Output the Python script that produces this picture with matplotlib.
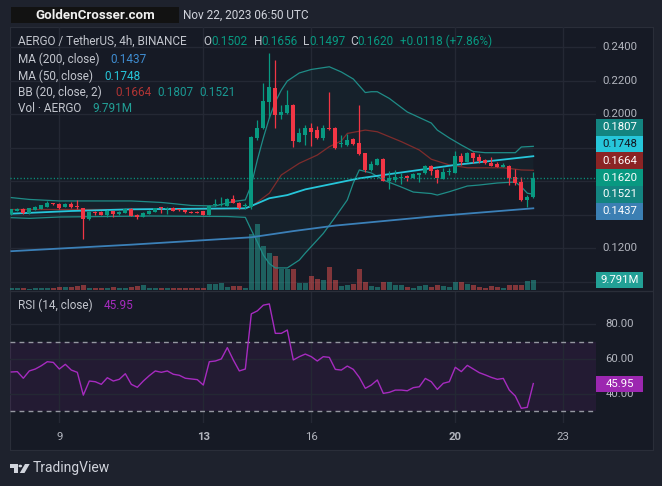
import matplotlib
matplotlib.use("Agg")
import matplotlib.pyplot as plt
from matplotlib.patches import Rectangle, Polygon, Circle
from matplotlib.lines import Line2D
import numpy as np

plt.rcParams['font.family'] = ['Roboto', 'DejaVu Sans']

W, H = 662, 486

BG_OUT = '#1e222d'
BG = '#161a25'
GRID = '#242834'
BORDER = '#2a2e39'
TXT = '#b2b5be'
LEG = '#c3c6ce'
GREEN = '#089981'
RED = '#f23645'

# AERGO / USDT 4h candles, Nov 7 16:00 -> Nov 22 04:00 UTC
opens = [0.1403, 0.1423, 0.1433, 0.1409, 0.1427, 0.1435, 0.1447, 0.1465, 0.1464, 0.1447,
         0.1464, 0.1445, 0.1437, 0.1373, 0.1413, 0.1417, 0.1399, 0.1421, 0.1403, 0.1411,
         0.1433, 0.1399, 0.1387, 0.1403, 0.1417, 0.1438, 0.1430, 0.1441, 0.1428, 0.1427,
         0.1417, 0.1417, 0.1419, 0.1399, 0.1455, 0.1459, 0.1453, 0.1494, 0.1470, 0.1453,
         0.1447, 0.1855, 0.1915, 0.2073, 0.2157, 0.1994, 0.2008, 0.2054, 0.1835, 0.1875,
         0.1915, 0.1904, 0.1855, 0.1917, 0.1915, 0.1819, 0.1815, 0.1851, 0.1825, 0.1765,
         0.1666, 0.1696, 0.1731, 0.1602, 0.1606, 0.1620, 0.1630, 0.1620, 0.1636, 0.1646,
         0.1690, 0.1666, 0.1614, 0.1656, 0.1650, 0.1749, 0.1715, 0.1769, 0.1741, 0.1725,
         0.1709, 0.1700, 0.1685, 0.1690, 0.1626, 0.1596, 0.1488, 0.1502]
highs = [0.1435, 0.1440, 0.1437, 0.1440, 0.1449, 0.1459, 0.1480, 0.1470, 0.1470, 0.1466,
         0.1476, 0.1487, 0.1440, 0.1419, 0.1423, 0.1420, 0.1425, 0.1423, 0.1419, 0.1440,
         0.1436, 0.1401, 0.1413, 0.1426, 0.1440, 0.1447, 0.1443, 0.1444, 0.1431, 0.1429,
         0.1419, 0.1420, 0.1421, 0.1455, 0.1493, 0.1503, 0.1497, 0.1518, 0.1473, 0.1467,
         0.1870, 0.1964, 0.2187, 0.2362, 0.2322, 0.2054, 0.2143, 0.2058, 0.1915, 0.1934,
         0.1944, 0.1930, 0.1934, 0.2133, 0.1920, 0.1875, 0.1881, 0.1855, 0.2054, 0.1770,
         0.1719, 0.1735, 0.1735, 0.1660, 0.1666, 0.1646, 0.1636, 0.1646, 0.1648, 0.1694,
         0.1694, 0.1670, 0.1676, 0.1676, 0.1781, 0.1765, 0.1775, 0.1775, 0.1761, 0.1731,
         0.1741, 0.1713, 0.1709, 0.1696, 0.1670, 0.1622, 0.1516, 0.1656]
lows = [0.1400, 0.1420, 0.1403, 0.1405, 0.1425, 0.1433, 0.1445, 0.1458, 0.1435, 0.1445,
        0.1437, 0.1433, 0.1256, 0.1367, 0.1397, 0.1397, 0.1387, 0.1385, 0.1400, 0.1409,
        0.1391, 0.1373, 0.1385, 0.1401, 0.1415, 0.1407, 0.1401, 0.1420, 0.1422, 0.1411,
        0.1407, 0.1408, 0.1397, 0.1397, 0.1453, 0.1452, 0.1450, 0.1467, 0.1433, 0.1433,
        0.1431, 0.1845, 0.1909, 0.1974, 0.1915, 0.1970, 0.2000, 0.1805, 0.1831, 0.1815,
        0.1809, 0.1853, 0.1845, 0.1904, 0.1790, 0.1805, 0.1809, 0.1815, 0.1755, 0.1656,
        0.1662, 0.1693, 0.1598, 0.1552, 0.1596, 0.1582, 0.1602, 0.1616, 0.1596, 0.1642,
        0.1636, 0.1586, 0.1610, 0.1636, 0.1646, 0.1696, 0.1711, 0.1709, 0.1706, 0.1700,
        0.1688, 0.1683, 0.1681, 0.1576, 0.1576, 0.1482, 0.1447, 0.1497]
closes = [0.1431, 0.1433, 0.1407, 0.1437, 0.1445, 0.1457, 0.1467, 0.1462, 0.1441, 0.1463,
          0.1443, 0.1443, 0.1373, 0.1417, 0.1409, 0.1399, 0.1423, 0.1405, 0.1417, 0.1435,
          0.1393, 0.1383, 0.1411, 0.1423, 0.1437, 0.1436, 0.1432, 0.1423, 0.1426, 0.1413,
          0.1411, 0.1411, 0.1399, 0.1451, 0.1459, 0.1462, 0.1494, 0.1470, 0.1441, 0.1456,
          0.1864, 0.1915, 0.2079, 0.2163, 0.1994, 0.2014, 0.2054, 0.1841, 0.1885, 0.1915,
          0.1894, 0.1859, 0.1915, 0.1913, 0.1800, 0.1825, 0.1845, 0.1821, 0.1761, 0.1666,
          0.1701, 0.1731, 0.1602, 0.1616, 0.1624, 0.1626, 0.1616, 0.1642, 0.1646, 0.1690,
          0.1661, 0.1616, 0.1656, 0.1660, 0.1749, 0.1715, 0.1769, 0.1739, 0.1719, 0.1706,
          0.1691, 0.1685, 0.1697, 0.1620, 0.1590, 0.1487, 0.1502, 0.1620]
# volume in millions
volumes = [1.96, 1.96, 1.96, 0.98, 1.96, 1.96, 1.96, 1.96, 3.23, 3.23,
           2.94, 4.21, 5.19, 1.96, 1.96, 1.96, 1.96, 2.94, 1.96, 1.96,
           3.23, 3.92, 5.19, 1.96, 1.96, 1.96, 1.96, 1.96, 1.96, 1.96,
           1.96, 1.96, 2.25, 5.87, 5.87, 6.56, 2.94, 3.92, 3.92, 1.96,
           55.1, 64.6, 43.1, 35.9, 33.3, 20.6, 20.6, 20.6, 6.56, 6.56,
           13.4, 10.8, 9.79, 22.2, 9.79, 3.92, 4.90, 5.87, 20.6, 7.83,
           3.92, 2.94, 7.83, 7.83, 4.90, 4.90, 2.94, 1.96, 3.92, 4.90,
           3.23, 4.90, 4.21, 2.94, 7.83, 7.83, 5.87, 4.90, 2.94, 1.96,
           4.21, 2.94, 1.96, 5.19, 5.19, 5.19, 8.81, 9.791]
rsi = [52.6, 52.8, 49.0, 53.2, 54.3, 56.2, 58.5, 58.1, 54.3, 57.0,
       53.7, 52.4, 39.3, 47.4, 47.0, 45.5, 49.3, 47.4, 48.4, 51.6,
       45.5, 43.8, 47.4, 50.5, 53.2, 52.4, 53.2, 51.3, 50.7, 49.0,
       48.6, 48.2, 45.1, 58.5, 58.9, 60.1, 66.6, 59.5, 53.2, 54.3,
       86.0, 87.7, 91.0, 91.7, 74.8, 74.8, 76.7, 59.5, 61.4, 62.9,
       61.4, 58.9, 61.4, 61.0, 54.1, 53.7, 56.0, 54.1, 49.5, 43.2,
       45.1, 48.0, 40.3, 40.9, 42.2, 42.2, 41.8, 43.6, 44.1, 48.9,
       47.0, 42.6, 46.1, 47.0, 55.3, 52.8, 56.4, 54.3, 52.2, 50.9,
       49.5, 48.4, 48.9, 42.2, 38.8, 31.7, 32.3, 45.95]

# indicator lines (candle index, value)
ma200_idx = [0, 20, 40, 47, 54, 71, 87]
ma200 = [0.1181, 0.1220, 0.1264, 0.1301, 0.1334, 0.1391, 0.1437]
ma50_idx = [0, 10, 20, 39, 40, 43, 46, 49, 55, 58, 74, 87]
ma50 = [0.1405, 0.1421, 0.1431, 0.1437, 0.1451, 0.1497, 0.1516, 0.1550, 0.1594, 0.1616,
        0.1696, 0.1748]
bb_up_idx = [0, 3, 8, 20, 25, 30, 34, 37, 39, 40, 41, 42, 43, 44, 45, 46, 48, 50, 53, 55,
             57, 59, 60, 61, 63, 66, 68, 70, 71, 73, 75, 77, 79, 84, 85, 87]
bb_up = [0.1501, 0.1490, 0.1481, 0.1481, 0.1472, 0.1454, 0.1451, 0.1478, 0.1487, 0.1576,
         0.1725, 0.1857, 0.1976, 0.2072, 0.2143, 0.2197, 0.2245, 0.2266, 0.2282, 0.2251,
         0.2209, 0.2128, 0.2133, 0.2133, 0.2093, 0.2012, 0.1979, 0.1946, 0.1904, 0.1857,
         0.1815, 0.1776, 0.1769, 0.1769, 0.1803, 0.1807]
bb_lo_idx = [0, 3, 8, 23, 36, 39, 40, 41, 42, 43, 44, 46, 48, 49, 52, 54, 56, 57, 58, 60,
             62, 65, 67, 70, 71, 73, 76, 78, 81, 84, 85, 86, 87]
bb_lo = [0.1381, 0.1377, 0.1385, 0.1391, 0.1388, 0.1383, 0.1307, 0.1236, 0.1158, 0.1107,
         0.1081, 0.1081, 0.1128, 0.1170, 0.1287, 0.1385, 0.1487, 0.1588, 0.1666, 0.1648,
         0.1606, 0.1564, 0.1534, 0.1525, 0.1516, 0.1536, 0.1570, 0.1576, 0.1588, 0.1594,
         0.1566, 0.1527, 0.1521]
bb_mid_idx = [0, 20, 39, 40, 43, 45, 48, 51, 53, 55, 56, 59, 61, 65, 68, 70, 73, 76, 82, 85, 87]
bb_mid = [0.1430, 0.1430, 0.1436, 0.1447, 0.1527, 0.1636, 0.1706, 0.1755, 0.1805, 0.1839,
          0.1884, 0.1904, 0.1894, 0.1835, 0.1785, 0.1730, 0.1696, 0.1679, 0.1679, 0.1666,
          0.1664]

day_ticks = [8, 32, 50, 74, 92]
day_labels = ['9', '13', '16', '20', '23']
bold_days = ['13', '20']
price_ticks = [0.10, 0.12, 0.14, 0.16, 0.18, 0.20, 0.22, 0.24]
rsi_ticks = [40, 60, 80]


def frect(x0, y0, x1, y1):
    return [x0 / W, 1 - y1 / H, (x1 - x0) / W, (y1 - y0) / H]


def ftext(x, y, s, **kw):
    kw.setdefault('va', 'center')
    kw.setdefault('fontsize', 8.5)
    kw.setdefault('color', LEG)
    return fig.text(x / W, 1 - y / H, s, **kw)


def fbox(x0, yc, x1, h, face, zorder=5):
    fig.add_artist(Rectangle((x0 / W, yc / H - h / 2 / H), (x1 - x0) / W, h / H,
                             transform=fig.transFigure, facecolor=face, edgecolor='none',
                             zorder=zorder))


fig = plt.figure(figsize=(W / 100, H / 100), dpi=100)
fig.patch.set_facecolor(BG_OUT)

frame = fig.add_axes(frect(9.5, 27, 652.5, 450))
frame.set_facecolor(BG)
frame.set_xticks([])
frame.set_yticks([])
for sp in frame.spines.values():
    sp.set_color(BORDER)

XL = (-0.22, 97.45)
main_rect = frect(10, 27, 596, 290)
ax_grid = fig.add_axes(main_rect)
ax_vol = fig.add_axes(main_rect)
ax = fig.add_axes(main_rect)
for a in (ax_grid, ax_vol, ax):
    a.set_facecolor('none')
    a.axis('off')
    a.set_xlim(*XL)
ax_grid.set_ylim(0.09493, 0.25194)
ax.set_ylim(0.09493, 0.25194)
ax_vol.set_ylim(0, 257.5)

for p in price_ticks:
    ax_grid.axhline(p, color=GRID, lw=1)
for d in day_ticks:
    ax_grid.axvline(d, color=GRID, lw=1)

idx = np.arange(len(opens))
o = np.array(opens)
c = np.array(closes)
up = c >= o
cols = np.where(up, GREEN, RED)
vcols = np.where(up, '#26a69a', '#ef5350')

ax_vol.bar(idx, volumes, width=0.82, color=vcols, alpha=0.5, linewidth=0)

# bollinger band fill
ax.fill(np.r_[bb_up_idx, bb_lo_idx[::-1]], np.r_[bb_up, bb_lo[::-1]],
        color='#1e9d97', alpha=0.06, lw=0, zorder=1)
ax.plot(bb_up_idx, bb_up, color='#1f8c87', lw=0.9, zorder=2)
ax.plot(bb_lo_idx, bb_lo, color='#1f8c87', lw=0.9, zorder=2)
ax.plot(bb_mid_idx, bb_mid, color='#7e2c2c', lw=0.9, zorder=2)
ax.plot(ma200_idx, ma200, color='#3b80b8', lw=1.3, zorder=2)
ax.plot(ma50_idx, ma50, color='#26c6da', lw=1.3, zorder=2)

ax.vlines(idx, lows, highs, colors=cols, lw=0.9, zorder=3)
ax.bar(idx, np.maximum(np.abs(c - o), 0.0006), bottom=np.minimum(o, c), width=0.68,
       color=cols, linewidth=0, zorder=4)
ax.axhline(closes[-1], color=GREEN, lw=1, linestyle=(0, (0.8, 1.6)), zorder=5)

# pane separator
fig.add_artist(Line2D([10 / W, 652 / W], [1 - 290.5 / H] * 2, color=BORDER, lw=1))

# RSI pane
ax_rsi = fig.add_axes(frect(10, 291, 596, 423))
ax_rsi.set_facecolor('none')
ax_rsi.axis('off')
ax_rsi.set_xlim(*XL)
ax_rsi.set_ylim(23.28, 99.14)
for r in rsi_ticks:
    ax_rsi.axhline(r, color=GRID, lw=1)
for d in day_ticks:
    ax_rsi.axvline(d, color=GRID, lw=1)
ax_rsi.axhspan(30, 70, color='#9c27b0', alpha=0.1, lw=0)
for r in (30, 70):
    ax_rsi.axhline(r, color='#9598a1', lw=1, linestyle=(0, (3.5, 3)))
ax_rsi.plot(idx, rsi, color='#a62bbf', lw=1)


def disp_y(a, v):
    return a.transData.transform((0, v))[1]


# stacked last-value labels
labels = [
    (bb_up[-1], '#138480', 'white'),
    (ma50[-1], '#26c6da', '#131722'),
    (bb_mid[-1], '#8b2424', 'white'),
    (closes[-1], GREEN, 'white'),
    (bb_lo[-1], '#138480', 'white'),
    (ma200[-1], '#3b7fb3', 'white'),
]
labels.sort(key=lambda t: -t[0])
bh = 16.8
anchor = [i for i, t in enumerate(labels) if t[0] == closes[-1]][0]
ys = [disp_y(ax, t[0]) for t in labels]
for i in range(anchor - 1, -1, -1):
    ys[i] = max(ys[i], ys[i + 1] + bh)
for i in range(anchor + 1, len(labels)):
    ys[i] = min(ys[i], ys[i - 1] - bh)
for (v, face, tc), yv in zip(labels, ys):
    fbox(596, yv, 643, bh, face)
    fig.text(619.5 / W, yv / H, f"{v:.4f}", ha='center', va='center', fontsize=8.2,
             color=tc, zorder=6)

yv_vol = ax_vol.transData.transform((0, volumes[-1]))[1]
fbox(596, yv_vol, 643, bh, '#22a096')
fig.text(619.5 / W, yv_vol / H, f"{volumes[-1]:.3f}M", ha='center', va='center',
         fontsize=8.2, color='white', zorder=6)

yr = disp_y(ax_rsi, rsi[-1])
fbox(596, yr, 643, 16, '#9c27b0')
fig.text(619.5 / W, yr / H, f"{rsi[-1]:.2f}", ha='center', va='center', fontsize=8.2,
         color='white', zorder=6)

# price scale labels, skipping those hidden under the value boxes
covered = ys + [yv_vol]
for p in price_ticks:
    yp = disp_y(ax, p)
    if any(abs(yp - yc) < bh * 0.75 for yc in covered):
        continue
    fig.text(619.5 / W, yp / H, f"{p:.4f}", ha='center', va='center',
             fontsize=8.2, color=TXT, zorder=3)
for r in rsi_ticks:
    yp = disp_y(ax_rsi, r)
    fig.text(619.5 / W, yp / H, f"{r:.2f}", ha='center', va='center',
             fontsize=8.2, color=TXT, zorder=3)

# time axis
for d, lab in zip(day_ticks, day_labels):
    xd = ax_rsi.transData.transform((d, 0))[0]
    fig.text(xd / W, 1 - 437 / H, lab, ha='center', va='center', fontsize=8.2, color=TXT,
             fontweight='bold' if lab in bold_days else 'normal')

# legend
ch = closes[-1] - closes[-2]
ftext(18, 41.7, "AERGO / TetherUS, 4h, BINANCE")
ftext(203, 41.7, "O")
ftext(211.5, 41.7, f"{opens[-1]:.4f}", color=GREEN)
ftext(254, 41.7, "H")
ftext(261.5, 41.7, f"{highs[-1]:.4f}", color=GREEN)
ftext(303.5, 41.7, "L")
ftext(309.5, 41.7, f"{lows[-1]:.4f}", color=GREEN)
ftext(350.5, 41.7, "C")
ftext(357.5, 41.7, f"{closes[-1]:.4f}", color=GREEN)
ftext(400, 41.7, f"{ch:+.4f} ({ch / closes[-2] * 100:+.2f}%)", color=GREEN)
ftext(18, 59.3, "MA (200, close)")
ftext(110, 59.3, f"{ma200[-1]:.4f}", color='#3f8cd0')
ftext(18, 76, "MA (50, close)")
ftext(104, 76, f"{ma50[-1]:.4f}", color='#26c6da')
ftext(18, 92.7, "BB (20, close, 2)")
ftext(115, 92.7, f"{bb_mid[-1]:.4f}", color='#b03434')
ftext(157, 92.7, f"{bb_up[-1]:.4f}", color='#1a9a94')
ftext(199, 92.7, f"{bb_lo[-1]:.4f}", color='#1a9a94')
ftext(18, 108.3, "Vol · AERGO")
ftext(92, 108.3, f"{volumes[-1]:.3f}M", color='#22a096')
ftext(18, 305.7, "RSI (14, close)")
ftext(103.5, 305.7, f"{rsi[-1]:.2f}", color='#a62bbf')

# header
fig.add_artist(Rectangle((10.5 / W, 1 - 23.5 / H), 168.5 / W, 16.5 / H,
                         transform=fig.transFigure, facecolor='#121212', edgecolor='none'))
ftext(95, 15.3, "GoldenCrosser.com", ha='center', fontsize=9.6, fontweight='bold',
      color='#f0f0f0')
ftext(183, 15.3, "Nov 22, 2023 06:50 UTC", fontsize=8.5, color='#d1d4dc')

# TradingView mark
logo = '#d1d4dc'


def lp(pts):
    return [(x / W, 1 - y / H) for x, y in pts]


fig.add_artist(Polygon(lp([(9.5, 464), (17.5, 464), (17.5, 473), (13.5, 473), (13.5, 467.5),
                           (9.5, 467.5)]), closed=True, transform=fig.transFigure,
                       facecolor=logo, edgecolor='none'))
fig.add_artist(Circle((20.3 / W, 1 - 466 / H), 1.8 / W, transform=fig.transFigure,
                      facecolor=logo, edgecolor='none'))
fig.add_artist(Polygon(lp([(25, 464), (29.7, 464), (24.5, 473), (19.8, 473)]), closed=True,
                       transform=fig.transFigure, facecolor=logo, edgecolor='none'))
ftext(33, 468.3, "TradingView", fontsize=10, color=logo)

fig.savefig("out.png", dpi=100, facecolor=BG_OUT)
